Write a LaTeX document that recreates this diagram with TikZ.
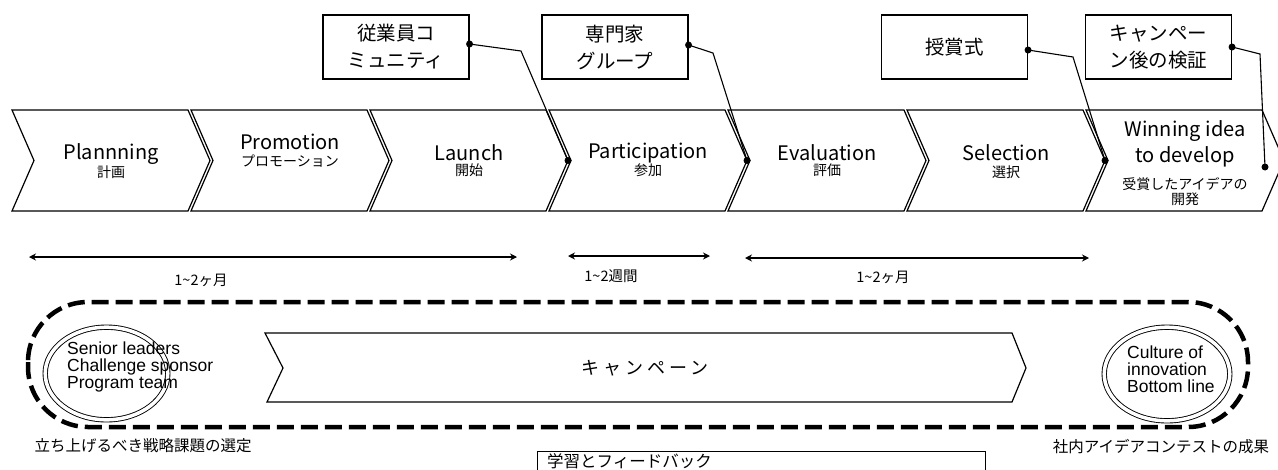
\documentclass[tikz,border=0pt]{standalone}
\usepackage{fontspec}
\setmainfont{Noto Sans CJK JP}
\newfontfamily\arialf{Liberation Sans}
\newfontfamily\jpspaced[LetterSpace=22]{Noto Sans CJK JP}
\usetikzlibrary{arrows.meta}
\begin{document}
\begin{tikzpicture}[x=1pt,y=-1pt,
  chev/.style={draw, line width=1.2pt, fill=white, line join=miter},
  lbl/.style={inner sep=0pt, font=\fontsize{20}{26}\selectfont, align=center},
  sublbl/.style={inner sep=0pt, font=\fontsize{14}{15}\selectfont, align=center},
  callbox/.style={draw, line width=1.1pt, minimum width=146pt, minimum height=64pt, inner sep=0pt, align=center, font=\fontsize{19.5}{27}\selectfont},
  callline/.style={line width=1.1pt},
  dot/.style={circle, fill=black, inner sep=0pt, minimum size=7pt},
  dimarrow/.style={line width=2.5pt, {Stealth[length=7pt,width=7pt]}-{Stealth[length=7pt,width=7pt]}},
  dimlbl/.style={inner sep=0pt, font=\fontsize{14.5}{16}\selectfont},
  stadium/.style={line width=4.5pt, dash pattern=on 17pt off 7pt, rounded corners=60pt},
  ring/.style={draw, double, double distance=3.5pt, line width=0.9pt},
  ringtext/.style={inner sep=0pt, anchor=west, align=left, font=\arialf\fontsize{17.5}{16.8}\selectfont},
  btm/.style={inner sep=0pt, font=\fontsize{15.5}{17}\selectfont},
  thinbox/.style={draw, line width=0.9pt}
]
\useasboundingbox (0,0) rectangle (1278,469);
\clip (0,0) rectangle (1278,469);

% phase chevrons
\foreach \i/\x in {1/12,2/191,3/370,4/549,5/728,6/907,7/1086}{
  \draw[chev] (\x,110) -- ++(176,0) -- ++(22,50.5) -- ++(-22,50.5) -- ++(-176,0) -- ++(22,-50.5) -- cycle;
  \coordinate (tip\i) at (\x+198,160.5);
}

% phase labels
\node[lbl] (plan) at (111,154) {Plannning};
\node[sublbl] (planj) at (111,172) {計画};
\node[lbl] (promo) at (290,142) {Promotion};
\node[sublbl] (promoj) at (290,161) {プロモーション};
\node[lbl] (launch) at (469,153) {Launch};
\node[sublbl] (launchj) at (469,170) {開始};
\node[lbl] (part) at (648,153) {Participation};
\node[sublbl] (partj) at (648,170) {参加};
\node[lbl] (eval) at (827,153) {Evaluation};
\node[sublbl] (evalj) at (827,170) {評価};
\node[lbl] (sel) at (1006,153) {Selection};
\node[sublbl] (selj) at (1006,172) {選択};
\node[lbl] (win) at (1185,144) {Winning idea\\to develop};
\node[sublbl] (winj) at (1185,192) {受賞したアイデアの\\開発};

% callout boxes
\node[callbox] (cb1) at (396,47) {従業員コ\\ミュニティ};
\node[callbox] (cb2) at (615,47) {専門家\\グループ};
\node[callbox] (cb3) at (954.5,47) {授賞式};
\node[callbox] (cb4) at (1158.5,47) {キャンペー\\ン後の検証};

\coordinate (k1) at (521,51);
\coordinate (k2) at (713,53);
\coordinate (k3) at (1073,57);
\coordinate (k4) at (1260,54);
\coordinate (e4) at (1265,167);

\draw[callline] ([yshift=3pt]cb1.east) -- (k1) -- (tip3);
\draw[callline] ([yshift=2pt]cb2.east) -- (k2) -- (tip4);
\draw[callline] ([yshift=-3pt]cb3.east) -- (k3) -- (tip6);
\draw[callline] (cb4.east) -- (k4) -- (e4);
\node[dot] (d1a) at ([yshift=3pt]cb1.east) {};
\node[dot] (d1b) at (tip3) {};
\node[dot] (d2a) at ([yshift=2pt]cb2.east) {};
\node[dot] (d2b) at (tip4) {};
\node[dot] (d3a) at ([yshift=-3pt]cb3.east) {};
\node[dot] (d3b) at (tip6) {};
\node[dot] (d4a) at (cb4.east) {};
\node[dot] (d4b) at (e4) {};

% durations
\coordinate (a1l) at (29,257);
\coordinate (a1r) at (517,257);
\coordinate (a2l) at (568,256);
\coordinate (a2r) at (710,256);
\coordinate (a3l) at (745,258);
\coordinate (a3r) at (1089,258);
\draw[dimarrow] (a1l) -- (a1r);
\draw[dimarrow] (a2l) -- (a2r);
\draw[dimarrow] (a3l) -- (a3r);
\node[dimlbl] (t1) at (201,280) {1\textasciitilde2ヶ月};
\node[dimlbl] (t2) at (611,276) {1\textasciitilde2週間};
\node[dimlbl] (t3) at (883,277) {1\textasciitilde2ヶ月};

% campaign loop
\draw[stadium] (28,302) rectangle (1248,427);
\draw[ring] (106.5,373.5) ellipse [x radius=61.3, y radius=46.3];
\draw[ring] (1167,374) ellipse [x radius=62.8, y radius=46.8];
\node[ringtext] (lt) at (67,367) {Senior leaders\\Challenge sponsor\\Program team};
\node[ringtext] (rt) at (1127,369) {Culture of\\innovation\\Bottom line};

\draw[chev] (265,333) -- (1012,333) -- (1026,368) -- (1012,402) -- (267,402) -- (283,368) -- cycle;
\node[inner sep=0pt, font=\jpspaced\fontsize{18}{20}\selectfont] (camp) at (645,368) {キャンペーン};

\node[btm] (bl) at (143,446) {立ち上げるべき戦略課題の選定};
\node[btm] (br) at (1161,447) {社内アイデアコンテストの成果};

\draw[thinbox] (537,451) rectangle (985,490);
\node[inner sep=0pt, anchor=west, font=\fontsize{16.5}{18}\selectfont] (fb) at (547,461) {学習とフィードバック};
\end{tikzpicture}
\end{document}
